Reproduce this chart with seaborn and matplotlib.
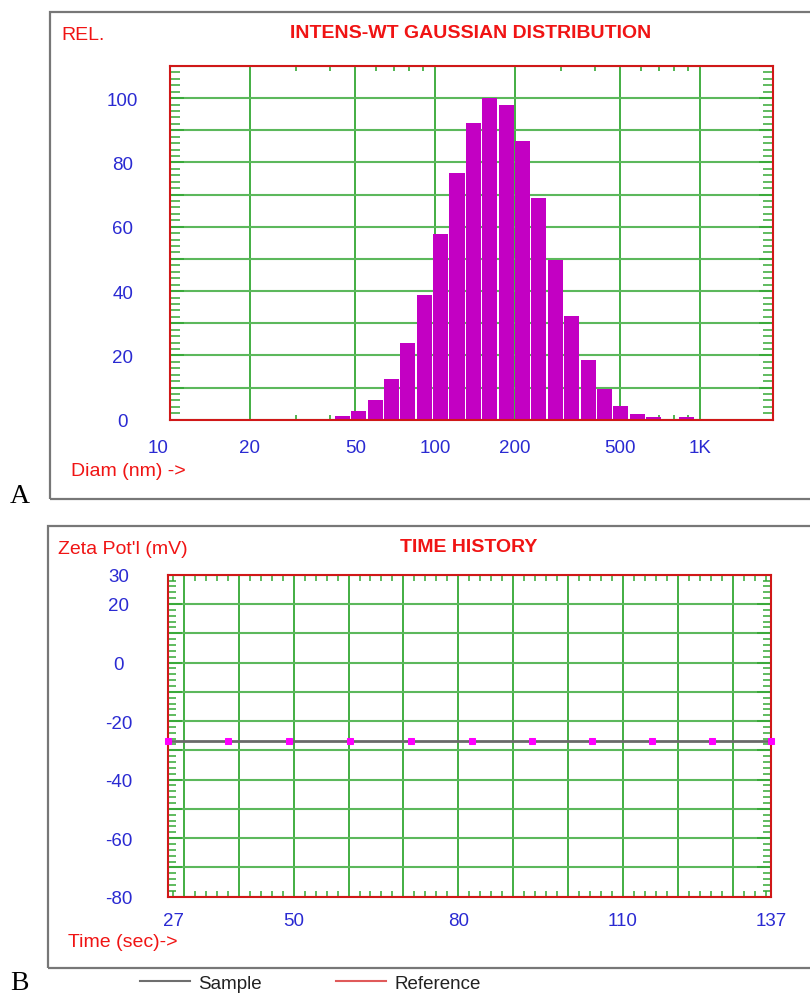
import matplotlib
matplotlib.use('Agg')
import matplotlib.pyplot as plt
import matplotlib.ticker as mticker
import matplotlib.transforms as mtrans
from matplotlib.patches import Rectangle
from matplotlib.lines import Line2D
import seaborn as sns

# ==================== data ====================
# A: intensity-weighted gaussian size distribution (bin centre diameters, nm)
diam_nm = [44.7, 51.5, 59.4, 68.5, 79, 91.1, 105, 121, 139.5, 161, 185.5, 214,
           246.5, 284, 328, 378, 436, 502, 579, 668, 770, 888, 1024]
rel_int = [1.0, 2.8, 6.0, 12.7, 23.9, 38.7, 57.7, 76.7, 92.2, 100, 97.9, 86.8,
           69.1, 49.6, 32.2, 18.7, 9.5, 4.4, 1.8, 0.8, 0.0, 0.7, 0.2]
diam_ticks = [10, 20, 50, 100, 200, 500, 1000]
diam_ticklabels = ['10', '20', '50', '100', '200', '500', '1K']
rel_labels = [0, 20, 40, 60, 80, 100]

# B: zeta potential time history
time_s = [27, 38.1, 49.2, 60.2, 71.3, 82.5, 93.5, 104.4, 115.4, 126.3, 137]
zeta_mv = [-26.8, -26.8, -26.8, -26.8, -26.8, -26.8, -26.8, -26.8, -26.8, -26.8, -26.8]
time_grid = [27, 30, 40, 50, 60, 70, 80, 90, 100, 110, 120, 130, 137]
time_labels = [27, 50, 80, 110, 137]
zeta_labels = [30, 20, 0, -20, -40, -60, -80]

# ==================== style ====================
RED = '#f01414'
SPINE = '#d01818'
BLUE = '#2a2ad2'
GREEN = '#34a834'
GREEN_H = '#5cb85c'
BAR = '#c300c3'
W, H = 810, 995

plt.rcParams['font.family'] = ['Liberation Sans', 'DejaVu Sans']


def fx(x):
    return x / W


def fy(y):
    return 1 - y / H


fig = plt.figure(figsize=(W / 100, H / 100), dpi=100)

# outer gray panel boxes
fig.patches.append(Rectangle((fx(50), fy(500)), fx(770), (500 - 12.7) / H, transform=fig.transFigure,
                             fill=False, edgecolor='#777777', linewidth=1.6))
fig.patches.append(Rectangle((fx(48), fy(969)), fx(770), (969 - 526.7) / H, transform=fig.transFigure,
                             fill=False, edgecolor='#777777', linewidth=1.6))

ax1 = fig.add_axes([fx(170), fy(420.7), 602.7 / W, 353.7 / H])
ax2 = fig.add_axes([fx(167.5), fy(897.7), 603.5 / W, 322 / H])

# ==================== A: histogram ====================
sns.barplot(x=diam_nm, y=rel_int, ax=ax1, native_scale=True, log_scale=(True, False),
            orient='x', color=BAR, saturation=1, width=0.93, errorbar=None, linewidth=0)
ax1.set_xlim(10, 1880)
ax1.set_ylim(0, 110)
ax1.xaxis.set_major_locator(mticker.FixedLocator(diam_ticks))
ax1.xaxis.set_major_formatter(mticker.FixedFormatter(diam_ticklabels))
ax1.xaxis.set_minor_locator(mticker.LogLocator(base=10, subs=[3, 4, 6, 7, 8, 9]))
ax1.xaxis.set_minor_formatter(mticker.NullFormatter())
ax1.yaxis.set_major_locator(mticker.MultipleLocator(10))
ax1.yaxis.set_major_formatter(mticker.FuncFormatter(
    lambda v, p: str(int(round(v))) if int(round(v)) in rel_labels else ''))
ax1.yaxis.set_minor_locator(mticker.MultipleLocator(2))

ax1.tick_params(axis='x', which='major', direction='in', top=True, bottom=True, length=0,
                pad=14, labelcolor=BLUE, labelsize=13.5)
ax1.tick_params(axis='x', which='minor', direction='in', top=True, bottom=True, length=3.5,
                width=1.2, color=GREEN)
ax1.tick_params(axis='y', which='major', direction='in', left=True, right=True, length=10,
                width=1.2, color=GREEN, pad=34, labelcolor=BLUE, labelsize=13.5)
ax1.tick_params(axis='y', which='minor', direction='in', left=True, right=True, length=7,
                width=1.1, color=GREEN)

# ==================== B: time history ====================
sns.lineplot(x=time_s, y=zeta_mv, ax=ax2, color='#6a6a6a', linewidth=2, errorbar=None,
             marker='s', markersize=3.8, markerfacecolor='#ff00ff', markeredgecolor='#ff00ff',
             clip_on=False, zorder=3)
ax2.set_xlim(27, 137)
ax2.set_ylim(-80, 30)
ax2.xaxis.set_major_locator(mticker.FixedLocator(time_grid))
ax2.xaxis.set_major_formatter(mticker.FuncFormatter(
    lambda v, p: str(int(round(v))) if int(round(v)) in time_labels else ''))
ax2.xaxis.set_minor_locator(mticker.MultipleLocator(2))
ax2.yaxis.set_major_locator(mticker.MultipleLocator(10))
ax2.yaxis.set_major_formatter(mticker.FuncFormatter(
    lambda v, p: str(int(round(v))) if int(round(v)) in zeta_labels else ''))
ax2.yaxis.set_minor_locator(mticker.MultipleLocator(2))

ax2.tick_params(axis='x', which='major', direction='in', top=True, bottom=True, length=0,
                pad=11, labelcolor=BLUE, labelsize=13.5)
ax2.tick_params(axis='x', which='minor', direction='in', top=True, bottom=True, length=4.5,
                width=1.1, color=GREEN)
ax2.tick_params(axis='y', which='major', direction='in', left=True, right=True, length=10,
                width=1.2, color=GREEN, pad=35, labelcolor=BLUE, labelsize=13.5)
ax2.tick_params(axis='y', which='minor', direction='in', left=True, right=True, length=6,
                width=1.1, color=GREEN)

for ax in (ax1, ax2):
    ax.set_xlabel('')
    ax.set_ylabel('')
    ax.set_axisbelow(True)
    ax.xaxis.grid(True, which='major', color=GREEN, linewidth=1.3)
    ax.yaxis.grid(True, which='major', color=GREEN_H, linewidth=1.5)
    for s in ax.spines.values():
        s.set_visible(True)
        s.set_color(SPINE)
        s.set_linewidth(1.5)
    plt.setp(ax.get_yticklabels(), ha='center')

# the end labels sit a bit off their ticks in the original
fig.canvas.draw()
ax1.xaxis.get_major_ticks()[0].label1.set_transform(
    ax1.xaxis.get_major_ticks()[0].label1.get_transform()
    + mtrans.ScaledTranslation(-0.12, 0, fig.dpi_scale_trans))
ax2.xaxis.get_major_ticks()[0].label1.set_transform(
    ax2.xaxis.get_major_ticks()[0].label1.get_transform()
    + mtrans.ScaledTranslation(0.06, 0, fig.dpi_scale_trans))

# ==================== texts ====================
fig.text(fx(61), fy(36), 'REL.', color=RED, fontsize=14, va='center', ha='left')
fig.text(fx(471), fy(34), 'INTENS-WT GAUSSIAN DISTRIBUTION', color=RED, fontsize=14,
         fontweight='bold', va='center', ha='center')
fig.text(fx(71), fy(472), 'Diam (nm) ->', color=RED, fontsize=14, va='center', ha='left')
fig.text(fx(58), fy(549), "Zeta Pot'l (mV)", color=RED, fontsize=14, va='center', ha='left')
fig.text(fx(469), fy(547), 'TIME HISTORY', color=RED, fontsize=14, fontweight='bold',
         va='center', ha='center')
fig.text(fx(68), fy(943), 'Time (sec)->', color=RED, fontsize=14, va='center', ha='left')
fig.text(fx(10), fy(497), 'A', family='Liberation Serif', fontsize=20, va='center', ha='left')
fig.text(fx(10), fy(984), 'B', family='Liberation Serif', fontsize=20, va='center', ha='left')

handles = [Line2D([], [], color='#6e6e6e', linewidth=1.5),
           Line2D([], [], color='#e05a5a', linewidth=1.5)]
fig.legend(handles, ['Sample', 'Reference'], loc='center left',
           bbox_to_anchor=(fx(140), fy(984)), frameon=False, ncol=2, fontsize=13.5,
           handlelength=2.65, handletextpad=0.47, columnspacing=3.95, borderpad=0,
           borderaxespad=0, labelcolor='#222222')

fig.savefig('out.png', dpi=100)
